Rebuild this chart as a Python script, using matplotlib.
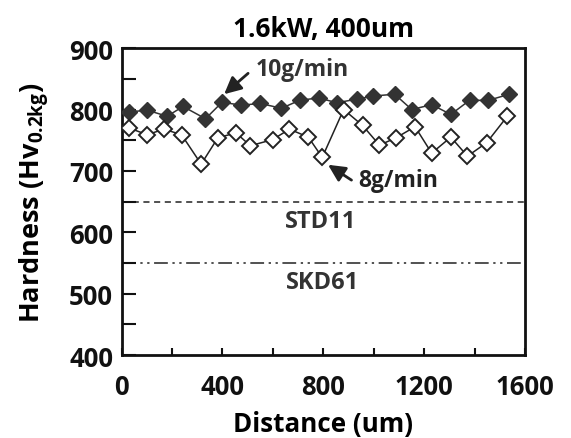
import matplotlib
matplotlib.use('Agg')
import matplotlib.pyplot as plt
from matplotlib.ticker import MultipleLocator

plt.rcParams['font.family'] = ['Open Sans', 'DejaVu Sans']
plt.rcParams['font.weight'] = 'bold'
plt.rcParams['mathtext.fontset'] = 'custom'
plt.rcParams['mathtext.rm'] = 'Open Sans:bold'
plt.rcParams['mathtext.it'] = 'Open Sans:bold'
plt.rcParams['mathtext.bf'] = 'Open Sans:bold'

# 10 g/min (filled diamonds)
dist_10 = [29, 102, 181, 244, 333, 399, 475, 550, 634, 706, 782,
           854, 933, 999, 1083, 1151, 1230, 1306, 1380, 1455, 1538]
hard_10 = [796, 799, 789, 805, 785, 812, 807, 810, 802, 815, 819,
           811, 817, 822, 825, 800, 808, 792, 815, 815, 825]

# 8 g/min (open diamonds)
dist_8 = [29, 102, 168, 238, 316, 382, 454, 511, 599, 666, 741,
          796, 881, 956, 1023, 1089, 1164, 1230, 1306, 1372, 1448, 1530]
hard_8 = [770, 759, 768, 759, 711, 754, 762, 741, 751, 768, 755,
          722, 800, 774, 742, 754, 772, 729, 755, 724, 746, 789]

std11 = 650
skd61 = 550

dark = '#333333'

fig = plt.figure(figsize=(5.71, 4.39), dpi=100)
ax = fig.add_axes([0.2128, 0.189, 0.7066, 0.699])

ax.axhline(std11, color='#222222', lw=1.1, ls=(0, (4, 3)), zorder=1)
ax.axhline(skd61, color='#222222', lw=1.1, ls=(0, (9, 3, 1.5, 3, 1.5, 3)), zorder=1)

ax.plot(dist_10, hard_10, color=dark, lw=1.1, marker='D', ms=8.5,
        mfc=dark, mec=dark, zorder=3)
ax.plot(dist_8, hard_8, color='#222222', lw=1.1, marker='D', ms=8.5,
        mfc='white', mec='#222222', mew=1.4, zorder=3)

ax.text(791, 619, 'STD11', ha='center', va='center', fontsize=17,
        color='#333333', fontweight='bold')
ax.text(799, 519, 'SKD61', ha='center', va='center', fontsize=17,
        color='#333333', fontweight='bold')

arrow = dict(arrowstyle='-|>,head_length=0.85,head_width=0.42', color='#222222',
             lw=2.0, mutation_scale=12, shrinkA=0, shrinkB=0)
ax.annotate('', xy=(407, 825), xytext=(502, 859), arrowprops=arrow)
ax.annotate('', xy=(819, 710), xytext=(912, 685), arrowprops=arrow)
ax.text(533, 866, '10g/min', fontsize=16.5, ha='left', va='center',
        color='#333333', fontweight='bold')
ax.text(938, 686, '8g/min', fontsize=16.5, ha='left', va='center',
        color='#222222', fontweight='bold')

ax.set_xlim(0, 1600)
ax.set_ylim(400, 900)
ax.xaxis.set_major_locator(MultipleLocator(400))
ax.xaxis.set_minor_locator(MultipleLocator(200))
ax.yaxis.set_major_locator(MultipleLocator(100))
ax.yaxis.set_minor_locator(MultipleLocator(50))
ax.tick_params(which='both', direction='in', width=1.5, colors='#111111',
               labelsize=18.5)
ax.tick_params(axis='x', which='both', length=5, top=False, pad=13)
ax.tick_params(axis='y', which='both', length=10, right=False, pad=6)
for s in ax.spines.values():
    s.set_linewidth(2.0)
    s.set_color('#111111')

ax.set_xlabel('Distance (um)', fontsize=18.7, fontweight='bold', labelpad=7)
ax.set_ylabel('Hardness (Hv$_{0.2kg}$)', fontsize=19.5, fontweight='bold',
              labelpad=12)
ax.set_title('1.6kW, 400um', fontsize=19, fontweight='bold', pad=9)

fig.savefig('out.png', dpi=100)
